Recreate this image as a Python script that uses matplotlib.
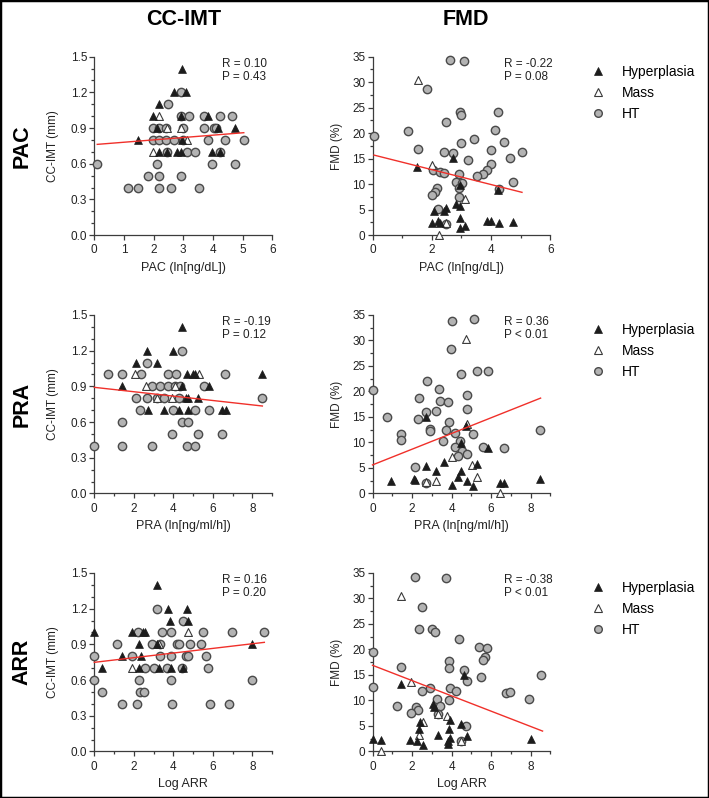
import matplotlib
matplotlib.use('Agg')
import matplotlib.pyplot as plt
from matplotlib.lines import Line2D
from matplotlib.patches import Rectangle
from matplotlib.ticker import MultipleLocator, FormatStrFormatter

plt.rcParams['font.family'] = ['Liberation Sans', 'DejaVu Sans']

# ---------------- data ----------------
col_titles = ['CC-IMT', 'FMD']
row_titles = ['PAC', 'PRA', 'ARR']
x_labels = ['PAC (ln[ng/dL])', 'PRA (ln[ng/ml/h])', 'Log ARR']
y_labels = ['CC-IMT (mm)', 'FMD (%)']
group_names = ['Hyperplasia', 'Mass', 'HT']

# PAC vs CC-IMT
pac_imt_hyp_x = [2.97, 2.70, 3.09, 2.19, 1.99, 2.91, 3.84, 2.10, 4.18, 4.74, 1.49, 2.96, 2.19, 2.46, 2.78, 2.91, 3.96, 4.24]
pac_imt_hyp_y = [1.4, 1.2, 1.2, 1.1, 1.0, 1.0, 1.0, 0.9, 0.9, 0.9, 0.8, 0.8, 0.7, 0.7, 0.7, 0.7, 0.7, 0.7]
pac_imt_mass_x = [2.19, 2.44, 2.94, 3.11, 1.99]
pac_imt_mass_y = [1.0, 0.9, 0.9, 0.8, 0.7]
pac_imt_ht_x = [0.10, 2.94, 2.49, 2.94, 3.20, 3.70, 4.24, 4.63, 1.99, 2.19, 2.42, 3.00, 3.70, 4.03, 4.12,
                1.99, 2.19, 2.42, 2.70, 3.00, 3.84, 4.40, 5.04, 2.46, 3.11, 3.39, 4.24, 2.10, 3.96, 4.74,
                1.82, 2.19, 2.94, 1.15, 1.48, 2.19, 2.58, 3.54]
pac_imt_ht_y = [0.6, 1.2, 1.1, 1.0, 1.0, 1.0, 1.0, 1.0, 0.9, 0.9, 0.9, 0.9, 0.9, 0.9, 0.9,
                0.8, 0.8, 0.8, 0.8, 0.8, 0.8, 0.8, 0.8, 0.7, 0.7, 0.7, 0.7, 0.6, 0.6, 0.6,
                0.5, 0.5, 0.5, 0.4, 0.4, 0.4, 0.4, 0.4]
pac_imt_fit_x = [0.10, 5.04]
pac_imt_fit_y = [0.763, 0.861]
pac_imt_stats = ['R = 0.10', 'P = 0.43']

# PAC vs FMD
pac_fmd_hyp_x = [1.50, 2.71, 2.96, 4.24, 2.09, 2.42, 2.49, 2.81, 2.96, 2.02, 2.20, 2.29, 2.96, 2.94, 3.11, 3.85, 4.00, 4.26, 4.75]
pac_fmd_hyp_y = [13.3, 15.2, 9.9, 8.9, 4.7, 4.8, 5.3, 6.2, 5.7, 2.4, 2.8, 2.3, 3.3, 1.5, 1.8, 2.8, 2.7, 2.3, 2.6]
pac_fmd_mass_x = [1.52, 2.02, 3.13, 2.23, 2.49]
pac_fmd_mass_y = [30.4, 13.7, 7.1, 0.1, 2.3]
pac_fmd_ht_x = [0.05, 2.60, 3.10, 1.83, 2.96, 2.98, 4.22, 2.49, 1.19, 4.12, 3.41, 2.99, 4.42, 1.52, 2.40,
                2.71, 3.99, 5.04, 3.21, 4.64, 4.00, 3.86, 3.72, 3.52, 2.04, 2.26, 2.42, 2.92, 2.82, 3.02,
                2.92, 2.17, 2.11, 2.00, 4.74, 4.25, 2.92, 2.20, 2.49]
pac_fmd_ht_y = [19.4, 34.4, 34.1, 28.6, 24.2, 23.5, 24.2, 22.2, 20.5, 20.7, 18.9, 18.0, 18.3, 16.8, 16.3,
                16.1, 16.7, 16.3, 14.8, 15.1, 14.0, 12.7, 12.0, 11.6, 12.7, 12.4, 12.2, 11.9, 10.4, 10.3,
                9.3, 9.3, 8.4, 7.9, 10.5, 9.0, 7.5, 5.2, 2.2]
pac_fmd_fit_x = [0.05, 5.04]
pac_fmd_fit_y = [15.7, 8.4]
pac_fmd_stats = ['R = -0.22', 'P = 0.08']

# PRA vs CC-IMT
pra_imt_hyp_x = [4.46, 2.69, 3.97, 2.09, 3.19, 1.39, 4.71, 4.98, 5.10, 8.50, 4.46, 5.81, 4.65, 4.76, 5.24, 2.70, 3.55, 4.26, 4.76, 6.45, 6.66]
pra_imt_hyp_y = [1.4, 1.2, 1.2, 1.1, 1.1, 0.9, 1.0, 1.0, 1.0, 1.0, 0.9, 0.9, 0.8, 0.8, 0.8, 0.7, 0.7, 0.7, 0.7, 0.7, 0.7]
pra_imt_mass_x = [2.06, 5.27, 2.62, 4.09, 3.19, 3.95]
pra_imt_mass_y = [1.0, 1.0, 0.9, 0.9, 0.8, 0.8]
pra_imt_ht_x = [4.46, 2.69, 0.71, 1.39, 2.35, 3.72, 4.12, 6.62, 2.91, 3.33, 3.75, 4.09, 4.31, 5.57,
                2.09, 2.69, 3.16, 3.50, 4.26, 8.48, 2.31, 4.00, 5.07, 5.81, 1.39, 4.43, 4.73,
                3.95, 5.24, 6.45, 0.00, 1.39, 2.91, 4.71, 5.10]
pra_imt_ht_y = [1.2, 1.1, 1.0, 1.0, 1.0, 1.0, 1.0, 1.0, 0.9, 0.9, 0.9, 0.9, 0.9, 0.9,
                0.8, 0.8, 0.8, 0.8, 0.8, 0.8, 0.7, 0.7, 0.7, 0.7, 0.6, 0.6, 0.6,
                0.5, 0.5, 0.5, 0.4, 0.4, 0.4, 0.4, 0.4]
pra_imt_fit_x = [0.0, 8.5]
pra_imt_fit_y = [0.892, 0.735]
pra_imt_stats = ['R = -0.19', 'P = 0.12']

# PRA vs FMD
pra_fmd_hyp_x = [2.68, 4.73, 4.48, 5.85, 2.68, 3.60, 3.22, 4.47, 5.27, 0.95, 2.10, 2.15, 4.32, 4.77, 5.07, 4.02, 6.43, 6.65, 8.48]
pra_fmd_hyp_y = [14.9, 13.3, 9.9, 9.0, 5.3, 6.2, 4.4, 4.5, 5.7, 2.5, 2.9, 2.6, 3.2, 2.4, 1.5, 1.6, 2.1, 2.1, 2.8]
pra_fmd_mass_x = [4.73, 4.77, 4.02, 5.05, 5.27, 3.22, 2.68, 6.43]
pra_fmd_mass_y = [30.3, 13.6, 7.1, 5.6, 3.2, 2.4, 2.2, 0.1]
pra_fmd_ht_x = [4.02, 5.13, 3.97, 4.48, 5.27, 5.82, 2.77, 3.38, 2.35, 3.43, 3.80, 4.77, 4.77, 2.68, 3.23,
                0.72, 2.32, 3.85, 2.93, 2.93, 3.73, 4.18, 5.10, 1.43, 1.43, 3.57, 4.40, 4.15, 4.52, 4.77,
                4.30, 5.60, 6.65, 8.48, 2.13, 2.68, 0.00]
pra_fmd_ht_y = [33.9, 34.2, 28.4, 23.4, 24.0, 24.0, 22.1, 20.5, 18.7, 18.2, 18.0, 19.4, 16.6, 15.9, 16.1,
                14.9, 14.6, 14.0, 12.7, 12.3, 12.5, 11.8, 11.7, 11.7, 10.4, 10.3, 10.3, 9.1, 8.4, 7.7,
                7.3, 9.1, 8.9, 12.5, 5.1, 2.1, 20.3]
pra_fmd_fit_x = [0.0, 8.5]
pra_fmd_fit_y = [5.6, 18.7]
pra_fmd_stats = ['R = 0.36', 'P < 0.01']

# ARR vs CC-IMT
arr_imt_hyp_x = [3.16, 3.72, 4.68, 3.83, 4.76, 0.00, 1.89, 2.45, 2.57, 2.28, 3.16, 7.97, 1.39, 2.35, 0.41, 2.26, 3.29, 3.89, 4.51]
arr_imt_hyp_y = [1.4, 1.2, 1.2, 1.1, 1.1, 1.0, 1.0, 1.0, 1.0, 0.9, 0.9, 0.9, 0.8, 0.8, 0.7, 0.7, 0.7, 0.7, 0.7]
arr_imt_mass_x = [1.89, 3.28, 4.76]
arr_imt_mass_y = [0.7, 0.9, 1.0]
arr_imt_ht_x = [3.16, 4.48, 2.23, 3.41, 3.87, 5.52, 6.96, 8.60, 1.17, 2.91, 3.33, 4.17, 4.29, 4.85, 5.41,
                0.00, 1.89, 3.33, 3.89, 4.65, 4.76, 5.64, 2.57, 3.04, 3.70, 4.43, 5.73, 0.00, 2.28, 3.89,
                7.97, 0.41, 2.31, 2.53, 1.42, 2.15, 3.95, 5.83, 6.79]
arr_imt_ht_y = [1.2, 1.1, 1.0, 1.0, 1.0, 1.0, 1.0, 1.0, 0.9, 0.9, 0.9, 0.9, 0.9, 0.9, 0.9,
                0.8, 0.8, 0.8, 0.8, 0.8, 0.8, 0.8, 0.7, 0.7, 0.7, 0.7, 0.7, 0.6, 0.6, 0.6,
                0.6, 0.5, 0.5, 0.5, 0.4, 0.4, 0.4, 0.4, 0.4]
arr_imt_fit_x = [0.0, 8.6]
arr_imt_fit_y = [0.749, 0.917]
arr_imt_stats = ['R = 0.16', 'P = 0.20']

# ARR vs FMD
arr_fmd_hyp_x = [1.46, 4.65, 3.05, 3.12, 2.41, 2.36, 0.00, 0.45, 1.90, 2.24, 2.56, 3.33, 3.90, 3.87, 3.82, 3.90, 3.82, 4.49, 4.80, 8.00]
arr_fmd_hyp_y = [13.3, 15.0, 9.3, 8.8, 5.7, 4.4, 2.5, 2.2, 2.3, 2.0, 1.3, 3.2, 6.2, 4.4, 2.1, 2.7, 1.5, 5.3, 3.0, 2.5]
arr_fmd_mass_x = [1.43, 1.93, 2.56, 3.32, 3.77, 2.33, 0.45, 4.46]
arr_fmd_mass_y = [30.4, 13.6, 5.7, 7.4, 6.9, 3.2, 0.0, 2.1]
arr_fmd_ht_x = [2.15, 3.73, 2.52, 2.35, 3.02, 3.15, 4.35, 5.38, 5.80, 5.68, 5.60, 3.85, 3.85, 1.43, 4.65,
                4.80, 5.48, 8.52, 2.93, 3.93, 4.22, 2.52, 6.73, 6.93, 7.93, 3.27, 3.85, 1.22, 2.22, 2.32,
                1.93, 3.43, 3.32, 4.73, 0.00, 0.00, 4.46]
arr_fmd_ht_y = [34.3, 34.0, 28.4, 24.1, 24.1, 23.4, 22.1, 20.5, 20.3, 18.6, 18.0, 17.8, 16.4, 16.5, 15.9,
                13.9, 14.6, 14.9, 12.4, 12.5, 11.8, 11.8, 11.4, 11.6, 10.3, 10.3, 10.1, 9.0, 8.7, 8.2,
                7.6, 9.0, 7.3, 5.0, 19.5, 12.6, 2.1]
arr_fmd_fit_x = [0.0, 8.6]
arr_fmd_fit_y = [16.9, 4.0]
arr_fmd_stats = ['R = -0.38', 'P < 0.01']

# ---------------- styling ----------------
HYP_COLOR = '#1c1c1c'
MASS_EDGE = '#3a3a3a'
HT_FACE = '#b3b3b3'
HT_EDGE = '#4a4a4a'
AX_COLOR = '#3c3c3c'
FIT_COLOR = '#f0302a'

panels = [
    [(pac_imt_hyp_x, pac_imt_hyp_y, pac_imt_mass_x, pac_imt_mass_y, pac_imt_ht_x, pac_imt_ht_y, pac_imt_fit_x, pac_imt_fit_y, pac_imt_stats),
     (pac_fmd_hyp_x, pac_fmd_hyp_y, pac_fmd_mass_x, pac_fmd_mass_y, pac_fmd_ht_x, pac_fmd_ht_y, pac_fmd_fit_x, pac_fmd_fit_y, pac_fmd_stats)],
    [(pra_imt_hyp_x, pra_imt_hyp_y, pra_imt_mass_x, pra_imt_mass_y, pra_imt_ht_x, pra_imt_ht_y, pra_imt_fit_x, pra_imt_fit_y, pra_imt_stats),
     (pra_fmd_hyp_x, pra_fmd_hyp_y, pra_fmd_mass_x, pra_fmd_mass_y, pra_fmd_ht_x, pra_fmd_ht_y, pra_fmd_fit_x, pra_fmd_fit_y, pra_fmd_stats)],
    [(arr_imt_hyp_x, arr_imt_hyp_y, arr_imt_mass_x, arr_imt_mass_y, arr_imt_ht_x, arr_imt_ht_y, arr_imt_fit_x, arr_imt_fit_y, arr_imt_stats),
     (arr_fmd_hyp_x, arr_fmd_hyp_y, arr_fmd_mass_x, arr_fmd_mass_y, arr_fmd_ht_x, arr_fmd_ht_y, arr_fmd_fit_x, arr_fmd_fit_y, arr_fmd_stats)],
]

fig = plt.figure(figsize=(7.09, 7.98), dpi=100)
col_left = [0.133, 0.5254]
ax_w = 0.251
ax_h = 0.2237
row_bottom = [0.7053, 0.3816, 0.0583]
xmax_rows = [6, 9, 9]

for r in range(3):
    for c in range(2):
        hx, hy, mx, my, tx, ty, fx, fy, stats = panels[r][c]
        ax = fig.add_axes([col_left[c], row_bottom[r], ax_w, ax_h])
        for s in ['top', 'right']:
            ax.spines[s].set_visible(False)
        for s in ['left', 'bottom']:
            ax.spines[s].set_color(AX_COLOR)
            ax.spines[s].set_linewidth(0.9)
        ax.set_xlim(0, xmax_rows[r])
        if c == 0:
            ax.set_ylim(0, 1.5)
            ax.yaxis.set_major_locator(MultipleLocator(0.3))
            ax.yaxis.set_minor_locator(MultipleLocator(0.1))
            ax.yaxis.set_major_formatter(FormatStrFormatter('%.1f'))
        else:
            ax.set_ylim(0, 35)
            ax.yaxis.set_major_locator(MultipleLocator(5))
            ax.yaxis.set_minor_locator(MultipleLocator(2.5))
        if r == 0 and c == 0:
            ax.xaxis.set_major_locator(MultipleLocator(1))
        else:
            ax.xaxis.set_major_locator(MultipleLocator(2))
            ax.xaxis.set_minor_locator(MultipleLocator(1))
        ax.tick_params(which='both', direction='out', color=AX_COLOR, width=0.9, labelsize=8.5,
                       labelcolor='#222222')
        ax.tick_params(which='major', length=3.5)
        ax.tick_params(which='minor', length=2)
        ax.tick_params(axis='y', pad=1.5)
        ax.tick_params(axis='x', pad=3)

        ax.scatter(tx, ty, s=36, marker='o', facecolor=HT_FACE, edgecolor=HT_EDGE, linewidth=1.0,
                   clip_on=False, zorder=3)
        ax.scatter(mx, my, s=32, marker='^', facecolor='white', edgecolor=MASS_EDGE, linewidth=0.8,
                   clip_on=False, zorder=4)
        ax.scatter(hx, hy, s=32, marker='^', facecolor=HYP_COLOR, edgecolor=HYP_COLOR, linewidth=0.5,
                   clip_on=False, zorder=5)
        ax.plot(fx, fy, color=FIT_COLOR, lw=1.0, zorder=6, clip_on=False)

        tx0 = 0.72 if c == 0 else 0.74
        ax.text(tx0, 0.961, stats[0], transform=ax.transAxes, ha='left', va='center', fontsize=8.5,
                color='#222222')
        ax.text(tx0, 0.888, stats[1], transform=ax.transAxes, ha='left', va='center', fontsize=8.5,
                color='#222222')

        ax.set_xlabel(x_labels[r], fontsize=9, color='#222222')
        ax.xaxis.set_label_coords(0.5, -0.15)
        ax.set_ylabel(y_labels[c], fontsize=8.5, color='#222222')
        ax.yaxis.set_label_coords(-0.2 if c == 0 else -0.165, 0.5)

        if c == 1:
            handles = [
                Line2D([], [], ls='none', marker='^', ms=5.5, mfc=HYP_COLOR, mec=HYP_COLOR, mew=0.5),
                Line2D([], [], ls='none', marker='^', ms=5.5, mfc='white', mec=MASS_EDGE, mew=0.8),
                Line2D([], [], ls='none', marker='o', ms=5.5, mfc=HT_FACE, mec=HT_EDGE, mew=1.0),
            ]
            ax.legend(handles, group_names, loc='upper left', bbox_to_anchor=(1.228, 0.953),
                      frameon=False, fontsize=10, handlelength=1.0, handletextpad=1.2,
                      borderpad=0, borderaxespad=0, labelspacing=0.5)

# column and row titles
fig.text(0.2595, 0.975, col_titles[0], ha='center', va='center', fontsize=15.5, fontweight='bold')
fig.text(0.657, 0.975, col_titles[1], ha='center', va='center', fontsize=15.5, fontweight='bold')
for r in range(3):
    fig.text(0.031, row_bottom[r] + ax_h / 2, row_titles[r], rotation=90, ha='center', va='center',
             fontsize=15.5, fontweight='bold')

fig.patches.append(Rectangle((0, 0), 1, 1, transform=fig.transFigure, fill=False,
                             edgecolor='black', linewidth=2.5))

fig.savefig('out.png', dpi=100)
